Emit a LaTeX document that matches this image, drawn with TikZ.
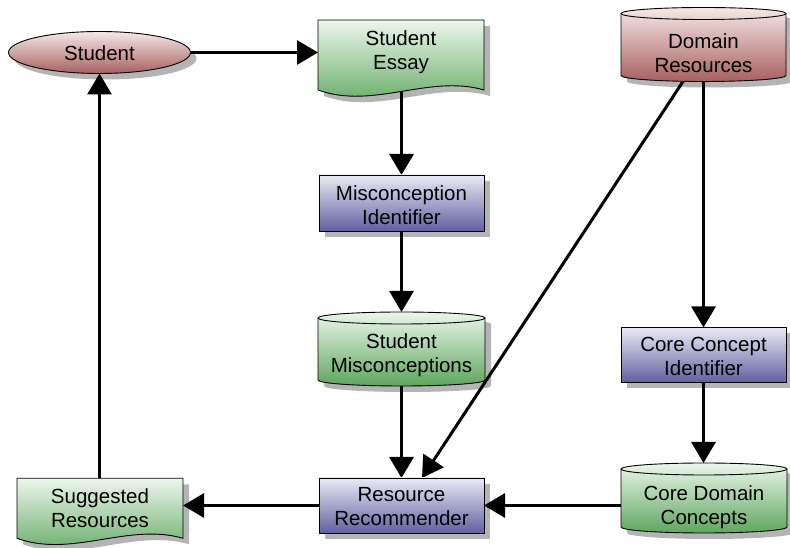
\documentclass[tikz,border=0pt]{standalone}
\usepackage{fontspec}
\setmainfont{Liberation Sans}
\usetikzlibrary{arrows.meta,calc,shapes.geometric}
\definecolor{redT}{RGB}{246,232,232}
\definecolor{redB}{RGB}{168,96,96}
\definecolor{grnT}{RGB}{236,246,236}
\definecolor{grnB}{RGB}{94,166,94}
\definecolor{bluT}{RGB}{234,234,246}
\definecolor{bluB}{RGB}{96,96,160}
\definecolor{shd}{RGB}{180,180,180}
\newcommand\cylshape[3]{\path[#3] ($(#1.north west)+(0,-6)$) -- ($(#1.south west)+(0,6)$) arc[start angle=180,end angle=360,x radius=#2,y radius=6pt] -- ($(#1.north east)+(0,-6)$) arc[start angle=0,end angle=180,x radius=#2,y radius=6pt] -- cycle;}
\newcommand\cyltop[2]{\draw[outline] ($(#1.north west)+(0,-6)$) arc[start angle=180,end angle=360,x radius=#2,y radius=6pt];}
\newcommand\docshape[2]{\path[#2] (#1.north west) -- (#1.north east) -- (#1.south east) .. controls ($(#1.south east)+(-55,16)$) and ($(#1.south west)+(55,-20)$) .. (#1.south west) -- cycle;}
\tikzset{
  frame/.style={draw=none, inner sep=0pt, outer sep=0pt, rectangle},
  outline/.style={draw=black, line width=0.9pt},
  redsh/.style={top color=redT, bottom color=redB},
  grnsh/.style={top color=grnT, bottom color=grnB},
  blush/.style={top color=bluT, bottom color=bluB},
  arr/.style={line width=3pt, -{Triangle[length=21pt,width=24pt]}},
  lbl/.style={anchor=north, inner sep=0pt, align=center, font=\fontsize{20.5}{24}\selectfont}
}
\begin{document}
\begin{tikzpicture}[x=1pt,y=1pt]
\useasboundingbox (0,0) rectangle (790,548);
% frames
\node[frame, ellipse, minimum width=182pt, minimum height=42pt] (st) at (99.5,495.5) {};
\node[frame, minimum width=166pt, minimum height=70pt] (es) at (401,493) {};
\node[frame, minimum width=165pt, minimum height=56pt] (mi) at (401.5,345) {};
\node[frame, minimum width=167pt, minimum height=74pt] (sm) at (401.5,199) {};
\node[frame, minimum width=165pt, minimum height=55pt] (rr) at (401.5,42.5) {};
\node[frame, minimum width=166pt, minimum height=60pt] (sr) at (100,39.7) {};
\node[frame, minimum width=165pt, minimum height=74pt] (dr) at (703.5,503.5) {};
\node[frame, minimum width=165pt, minimum height=55pt] (cci) at (703.5,193) {};
\node[frame, minimum width=166pt, minimum height=70pt] (cdc) at (704,50) {};
% shadows
\begin{scope}[transform canvas={shift={(6pt,-6pt)}}]
\fill[shd] (st.center) ellipse [x radius=91pt, y radius=21pt];
\docshape{es}{fill=shd}
\fill[shd] (mi.north west) rectangle (mi.south east);
\cylshape{sm}{83.5pt}{fill=shd}
\fill[shd] (rr.north west) rectangle (rr.south east);
\docshape{sr}{fill=shd}
\cylshape{dr}{82.5pt}{fill=shd}
\fill[shd] (cci.north west) rectangle (cci.south east);
\cylshape{cdc}{83pt}{fill=shd}
\end{scope}
% connectors
\draw[arr] (st.east) -- (st.east -| es.west);
\draw[arr] (es.center -| mi.north) -- (mi.north);
\draw[arr] (mi.south) -- (sm.north);
\draw[arr] (sm.south) -- (rr.north);
\draw[arr] ($(dr.south)+(-20.5,0)$) -- ($(rr.north)+(20.5,0)$);
\draw[arr] (dr.south) -- (cci.north);
\draw[arr] (cci.south) -- (cdc.north -| cci.south);
\draw[arr] (rr.east -| cdc.west) -- (rr.east);
\draw[arr] (rr.west) -- (rr.west -| sr.east);
\draw[arr] (sr.north -| st.south) -- (st.south);
% shapes
\path[redsh, outline] (st.center) ellipse [x radius=91pt, y radius=21pt];
\docshape{es}{grnsh, outline}
\path[blush, outline] (mi.north west) rectangle (mi.south east);
\cylshape{sm}{83.5pt}{grnsh, outline}\cyltop{sm}{83.5pt}
\path[blush, outline] (rr.north west) rectangle (rr.south east);
\docshape{sr}{grnsh, outline}
\cylshape{dr}{82.5pt}{redsh, outline}\cyltop{dr}{82.5pt}
\path[blush, outline] (cci.north west) rectangle (cci.south east);
\cylshape{cdc}{83pt}{grnsh, outline}\cyltop{cdc}{83pt}
% texts
\node[lbl] (st-t) at (99.5,503) {Student};
\node[lbl] (es-t) at (401,517.5) {Student\\Essay};
\node[lbl] (mi-t) at (401.5,363) {Misconception\\Identifier};
\node[lbl] (sm-t) at (401.5,214.5) {Student\\Misconceptions};
\node[lbl] (rr-t) at (401.5,60.7) {Resource\\Recommender};
\node[lbl] (sr-t) at (100,59.7) {Suggested\\Resources};
\node[lbl] (dr-t) at (703.5,514.7) {Domain\\Resources};
\node[lbl] (cci-t) at (703.5,211.3) {Core Concept\\Identifier};
\node[lbl] (cdc-t) at (704,63) {Core Domain\\Concepts};
\end{tikzpicture}
\end{document}
